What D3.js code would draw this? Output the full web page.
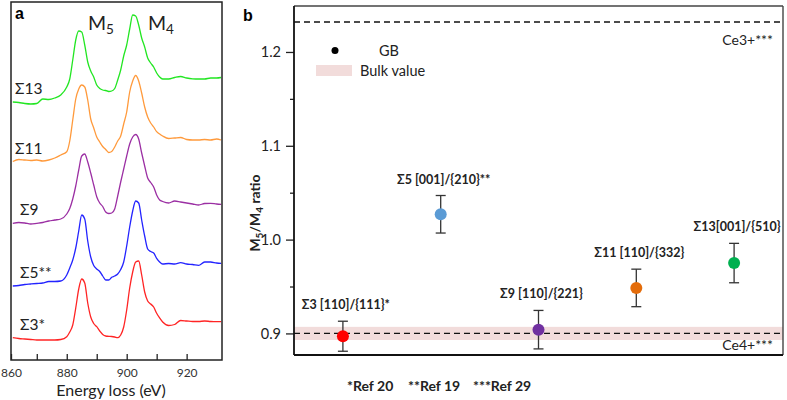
<!DOCTYPE html>
<html>
<head>
<meta charset="utf-8">
<script src="https://cdn.jsdelivr.net/npm/d3@7"></script>
<style>
  body { margin: 0; background: #fff; }
  text { font-family: Lato, "Open Sans", sans-serif; }
</style>
</head>
<body>
<svg id="fig" width="787" height="400"></svg>
<script>
// ---- panel a : EELS spectra (stacked, a.u.) ----
var energy = [862, 864, 866, 868, 870, 872, 874, 876, 878, 880, 881, 882, 883, 884, 885, 886, 887, 888, 889, 890,
    891, 892, 893, 894, 895, 896, 897, 898, 899, 900, 901, 902, 903, 904, 905, 906, 907, 908, 909, 910,
    911, 912, 914, 916, 918, 920, 922, 924, 926, 928, 930, 931.5];
var s13 = [258, 257.5, 256.5, 256, 256.5, 261, 260.5, 262, 265, 273, 281, 300, 320, 329, 328, 315, 298, 289, 283, 275,
    271.5, 270, 269.5, 268.5, 269, 271.5, 280, 290, 304, 315, 331, 345, 344, 335, 322, 313, 302, 297, 293, 287,
    283, 281, 281, 282.5, 283.5, 282, 281.2, 281, 281, 282, 282, 282.5];
var s11 = [198.5, 200.5, 200, 199.5, 200, 199, 200, 202, 205, 208.3, 219, 240, 261, 271, 275, 273, 260, 241, 232, 223,
    218, 213.5, 210.5, 207.5, 208.5, 213, 219, 224, 236, 248, 268, 279, 284.5, 279, 267, 253, 243, 237, 233, 228.3,
    226, 224, 221.5, 222, 222.5, 220.5, 220, 220, 220.5, 220, 221, 220];
var s9 = [136.7, 137.5, 137, 136, 136.7, 137.5, 139, 140, 141, 146, 151.5, 161, 174, 190, 204, 206, 198, 187, 175, 163.3,
    157, 153.5, 148, 146.5, 147, 151, 164, 178, 191, 204, 216, 223, 225.5, 221, 207, 194, 182, 177.5, 173, 165,
    160, 158.5, 157, 159, 158, 157, 156, 155, 156.5, 156.7, 156, 155.7];
var s5 = [74, 74.5, 75.5, 76, 76.5, 77, 78.5, 78.5, 79, 85, 92, 100, 112, 129, 145, 141, 119, 103, 94.5, 91,
    88.5, 84, 80, 80, 82.7, 84, 86, 90.5, 98, 114, 133, 149, 159, 157, 140, 124, 111, 108.5, 107, 101.7,
    98, 96, 96.5, 96, 97.3, 96, 95.5, 94.7, 98, 98, 97, 96.7];
var s3 = [22.3, 21.5, 21, 20.5, 20, 20, 20, 20, 20.5, 23.3, 28, 35, 52, 71, 81, 77, 57, 43, 36.5, 33.3,
    29, 25.5, 24, 23.7, 23.5, 23, 22.3, 25, 33, 50, 72, 88, 98, 99, 85, 68, 59, 56, 53, 46.7,
    42, 38, 34.5, 35.5, 39.5, 39, 38.5, 38.5, 39, 38.5, 38.3, 38.3];
var spectraNames = ["Σ13", "Σ11", "Σ9", "Σ5**", "Σ3*"];
var spectraColors = ["#22e622", "#ff9a3c", "#9b2fa3", "#2323ff", "#ff2424"];
var energyTicks = [860, 870, 880, 890, 900, 910, 920];
var energyLabels = [860, 880, 900, 920];

// ---- panel b : M5/M4 ratio ----
var gbNames = ["Σ3 [110]/{111}*", "Σ5 [001]/{210}**", "Σ9 [110]/{221}", "Σ11 [110]/{332}", "Σ13[001]/{510}"];
var gbRatio = [0.897, 1.027, 0.904, 0.9485, 0.975];
var gbError = [0.016, 0.020, 0.0205, 0.020, 0.021];
var gbColors = ["#ff0000", "#5b9bd5", "#7030a0", "#e46c0a", "#00b050"];
var ratioTicks = [0.9, 1.0, 1.1, 1.2];
var ratioMinor = [0.95, 1.05, 1.15];
var ce3Ratio = 1.232, ce4Ratio = 0.9;
var bulkRange = [0.893, 0.907];

var svg = d3.select("#fig");
svg.append("rect").attr("width", 787).attr("height", 400).attr("fill", "#fff");

// ================= panel a =================
var ax = d3.scaleLinear().domain([861.4, 931.8]).range([11, 222]).clamp(true);
var ay = d3.scaleLinear().domain([0, 358]).range([360, 2]);
var ga = svg.append("g");

var spectra = [s13, s11, s9, s5, s3];
var line = d3.line()
    .x(function(d, i) { return ax(energy[i]); })
    .y(function(d) { return ay(d); })
    .curve(d3.curveMonotoneX);

spectra.forEach(function(s, k) {
    ga.append("path")
        .attr("d", line(s))
        .attr("fill", "none")
        .attr("stroke", spectraColors[k])
        .attr("stroke-width", 1.3);
    ga.append("text")
        .attr("x", k < 2 ? 15 : 20)
        .attr("y", ay(s[0]) - 8)
        .attr("font-size", 15.5)
        .attr("fill", "#222")
        .text(spectraNames[k]);
});

var xAxisA = d3.axisBottom(ax).tickValues(energyTicks).tickSize(-6).tickPadding(8)
    .tickFormat(function(d) { return energyLabels.indexOf(d) >= 0 ? d : ""; });
var gxa = ga.append("g").attr("transform", "translate(0,360)").call(xAxisA);
gxa.select(".domain").remove();
gxa.selectAll("line").attr("stroke", "#222").attr("stroke-width", 1.3);
gxa.selectAll("text").attr("font-size", 12).attr("fill", "#333")
    .attr("font-family", "Lato, sans-serif");

ga.append("rect").attr("x", 11).attr("y", 2).attr("width", 211).attr("height", 358)
    .attr("fill", "none").attr("stroke", "#222").attr("stroke-width", 1.5);

ga.append("text").attr("x", 111).attr("y", 395.5).attr("text-anchor", "middle")
    .attr("font-size", 16).attr("fill", "#222").text("Energy loss (eV)");
ga.append("text").attr("x", 15).attr("y", 19).attr("font-size", 16).attr("font-weight", "bold")
    .style("font-family", "'Liberation Sans', Arial, sans-serif").text("a");

[["M", "5", 88], ["M", "4", 148]].forEach(function(m) {
    var t = ga.append("text").attr("x", m[2]).attr("y", 30).attr("font-size", 19.5).attr("fill", "#222");
    t.append("tspan").text(m[0]);
    t.append("tspan").attr("font-size", 13.5).attr("dy", 4).text(m[1]);
});

// ================= panel b =================
var bLeft = 294, bRight = 783, bTop = 6, bBottom = 355;
var bx = d3.scaleBand().domain(gbNames).range([bLeft, bRight]);
var by = d3.scaleLinear().domain([0.877, 1.249]).range([bBottom, bTop]);
var gb = svg.append("g");

gb.append("rect")
    .attr("x", bLeft).attr("width", bRight - bLeft)
    .attr("y", by(bulkRange[1])).attr("height", by(bulkRange[0]) - by(bulkRange[1]))
    .attr("fill", "#f2dcdb");

[ce3Ratio, ce4Ratio].forEach(function(v) {
    gb.append("line").attr("x1", bLeft).attr("x2", bRight).attr("y1", by(v)).attr("y2", by(v))
        .attr("stroke", "#111").attr("stroke-width", 1.4).attr("stroke-dasharray", "6,4");
});

gb.append("text").attr("x", 773).attr("y", by(ce3Ratio) + 23).attr("text-anchor", "end")
    .attr("font-size", 14).attr("fill", "#222").text("Ce3+***");
gb.append("text").attr("x", 773).attr("y", by(ce4Ratio) + 17).attr("text-anchor", "end")
    .attr("font-size", 14).attr("fill", "#222").text("Ce4+***");

var pts = gb.selectAll(".gb").data(gbNames).enter().append("g").attr("class", "gb");
pts.append("line")
    .attr("x1", function(d) { return bx(d) + bx.bandwidth() / 2; })
    .attr("x2", function(d) { return bx(d) + bx.bandwidth() / 2; })
    .attr("y1", function(d, i) { return by(gbRatio[i] + gbError[i]); })
    .attr("y2", function(d, i) { return by(gbRatio[i] - gbError[i]); })
    .attr("stroke", "#333").attr("stroke-width", 1.3);
[1, -1].forEach(function(sg) {
    pts.append("line")
        .attr("x1", function(d) { return bx(d) + bx.bandwidth() / 2 - 5; })
        .attr("x2", function(d) { return bx(d) + bx.bandwidth() / 2 + 5; })
        .attr("y1", function(d, i) { return by(gbRatio[i] + sg * gbError[i]); })
        .attr("y2", function(d, i) { return by(gbRatio[i] + sg * gbError[i]); })
        .attr("stroke", "#333").attr("stroke-width", 1.3);
});
pts.append("circle")
    .attr("cx", function(d) { return bx(d) + bx.bandwidth() / 2; })
    .attr("cy", function(d, i) { return by(gbRatio[i]); })
    .attr("r", 6)
    .attr("fill", function(d, i) { return gbColors[i]; });
pts.append("text")
    .attr("x", function(d) { return bx(d) + bx.bandwidth() / 2 + 3; })
    .attr("y", function(d, i) { return by(gbRatio[i] + gbError[i]) - 12; })
    .attr("text-anchor", "middle")
    .attr("font-size", 12.5).attr("font-weight", "bold").attr("fill", "#222")
    .text(function(d) { return d; });

// axes / frame
var yAxisB = d3.axisLeft(by).tickValues(ratioTicks).tickSize(8).tickPadding(5).tickFormat(d3.format(".1f"));
var gyb = gb.append("g").attr("transform", "translate(" + bLeft + ",0)").call(yAxisB);
gyb.select(".domain").remove();
gyb.selectAll("line").attr("stroke", "#222").attr("stroke-width", 1.3);
gyb.selectAll("text").attr("font-size", 14.5).attr("fill", "#222").attr("font-family", "Lato, sans-serif");
var gmb = gb.append("g").attr("transform", "translate(" + bLeft + ",0)")
    .call(d3.axisLeft(by).tickValues(ratioMinor).tickSize(4).tickFormat(""));
gmb.select(".domain").remove();
gmb.selectAll("line").attr("stroke", "#222").attr("stroke-width", 1.3);

gb.append("line").attr("x1", bLeft).attr("x2", bRight).attr("y1", bTop).attr("y2", bTop).attr("stroke", "#444").attr("stroke-width", 1.4);
gb.append("line").attr("x1", bRight).attr("x2", bRight).attr("y1", bTop).attr("y2", bBottom).attr("stroke", "#444").attr("stroke-width", 1.4);
gb.append("line").attr("x1", bLeft).attr("x2", bRight).attr("y1", bBottom).attr("y2", bBottom).attr("stroke", "#111").attr("stroke-width", 1.8);
gb.append("line").attr("x1", bLeft).attr("x2", bLeft).attr("y1", bTop).attr("y2", bBottom).attr("stroke", "#111").attr("stroke-width", 1.8);

// y title
var yt = gb.append("text").attr("transform", "translate(260,213) rotate(-90)")
    .attr("text-anchor", "middle").attr("font-size", 14).attr("font-weight", "bold").attr("fill", "#222");
yt.append("tspan").text("M");
yt.append("tspan").attr("font-size", 10).attr("dy", 3).text("5");
yt.append("tspan").attr("dy", -3).text("/M");
yt.append("tspan").attr("font-size", 10).attr("dy", 3).text("4");
yt.append("tspan").attr("dy", -3).text(" ratio");

gb.append("text").attr("x", 243).attr("y", 21).attr("font-size", 16).attr("font-weight", "bold")
    .style("font-family", "'Liberation Sans', Arial, sans-serif").text("b");

// legend
gb.append("circle").attr("cx", 335).attr("cy", 50.5).attr("r", 3.5).attr("fill", "#000");
gb.append("text").attr("x", 379).attr("y", 55.5).attr("font-size", 14.5).attr("fill", "#222").text("GB");
gb.append("rect").attr("x", 316).attr("y", 65).attr("width", 36).attr("height", 11).attr("fill", "#f2dcdb");
gb.append("text").attr("x", 360).attr("y", 75.5).attr("font-size", 14.5).attr("fill", "#222").text("Bulk value");

// references
[["*Ref 20", 347], ["**Ref 19", 408], ["***Ref 29", 473]].forEach(function(r) {
    gb.append("text").attr("x", r[1]).attr("y", 391).attr("font-size", 14).attr("font-weight", "bold")
        .attr("fill", "#222").text(r[0]);
});
</script>
</body>
</html>
